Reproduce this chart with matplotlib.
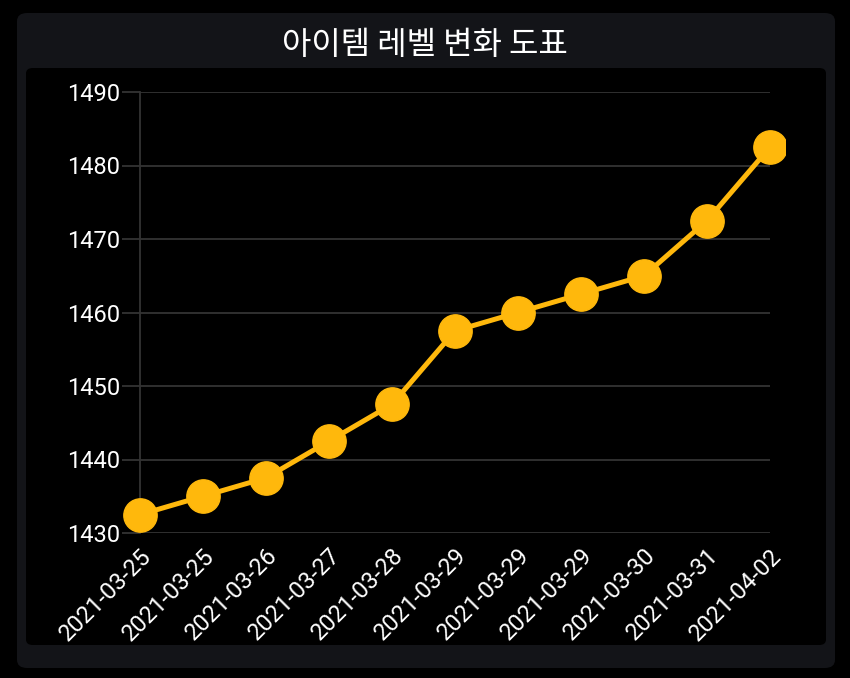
import matplotlib.pyplot as plt
from matplotlib.patches import FancyBboxPatch, Rectangle

plt.rcParams['font.family'] = ['Noto Sans CJK KR', 'DejaVu Sans']

# 아이템 레벨 데이터
dates = ['2021-03-25', '2021-03-25', '2021-03-26', '2021-03-27', '2021-03-28',
         '2021-03-29', '2021-03-29', '2021-03-29', '2021-03-30', '2021-03-31',
         '2021-04-02']
levels = [1432.5, 1435, 1437.5, 1442.5, 1447.5, 1457.5, 1460, 1462.5, 1465,
          1472.5, 1482.5]
yticks = [1430, 1440, 1450, 1460, 1470, 1480, 1490]

W, H = 850, 678
fig = plt.figure(figsize=(W / 100, H / 100), dpi=100, facecolor='black')

# 바깥 패널 / 안쪽 패널 (축보다 뒤에 그려지도록 zorder 음수)
fig.patches.append(FancyBboxPatch((17 / W, 10 / H), 818 / W, 655 / H,
                                  boxstyle='round,pad=0,rounding_size=0.012',
                                  transform=fig.transFigure, facecolor='#131418',
                                  edgecolor='none', zorder=-2))
fig.patches.append(FancyBboxPatch((26 / W, 33 / H), 800 / W, 577 / H,
                                  boxstyle='round,pad=0,rounding_size=0.008',
                                  transform=fig.transFigure, facecolor='black',
                                  edgecolor='none', zorder=-1))

fig.text(425 / W, 1 - 45 / H, '아이템 레벨 변화 도표', color='white',
         fontsize=23, ha='center', va='center')

ax = fig.add_axes([140 / W, 1 - 533 / H, 630 / W, 441 / H])
ax.set_facecolor('none')
x = list(range(len(dates)))
line, = ax.plot(x, levels, color='#FFB80C', linewidth=3.6, marker='o',
                markersize=24, zorder=3)
clip = Rectangle((0, 0), 785, H, transform=None)
line.set_clip_path(clip)

ax.set_xlim(0, len(dates) - 1)
ax.set_ylim(1430, 1490)
ax.set_yticks(yticks)
ax.set_xticks(x)
ax.set_xticklabels(dates, rotation=45, ha='right', rotation_mode='anchor')
for lbl in ax.get_xticklabels() + ax.get_yticklabels():
    lbl.set_fontfamily('Roboto')

for s in ['top', 'right', 'bottom']:
    ax.spines[s].set_visible(False)
ax.spines['left'].set_color('#333333')
ax.spines['left'].set_linewidth(1.3)

ax.grid(True, axis='y', color='#333333', linewidth=1.3)
ax.tick_params(axis='y', colors='#333333', labelcolor='white', length=13,
               width=1.3, pad=1, labelsize=17)
ax.tick_params(axis='x', length=0, labelcolor='white', labelsize=17, pad=8)

fig.savefig('out.png', dpi=100, facecolor='black')
